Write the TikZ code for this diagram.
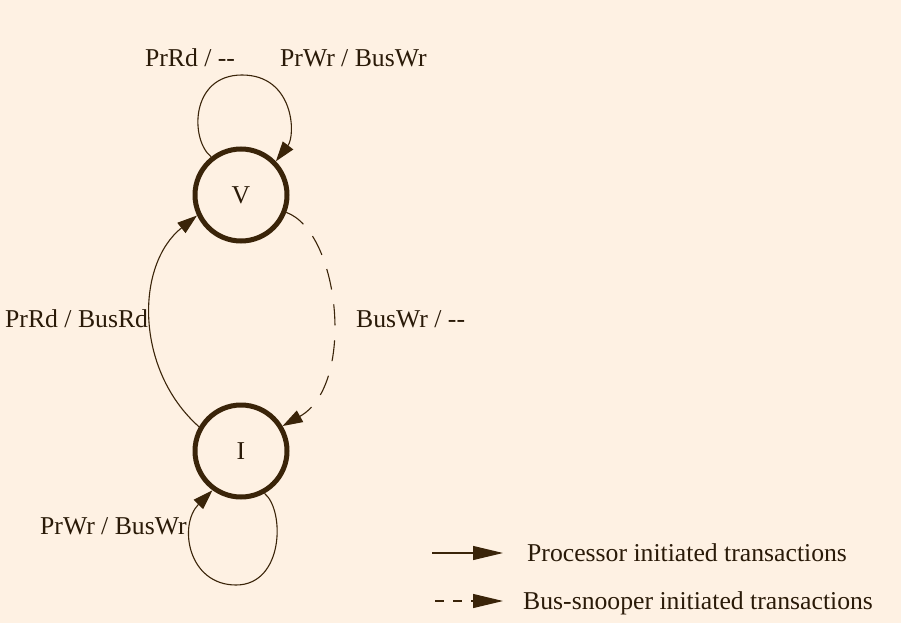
\documentclass[tikz,border=0pt]{standalone}
\usepackage{fontspec}
\setmainfont{Liberation Serif}
\usetikzlibrary{arrows.meta}
\definecolor{bg}{HTML}{FEF1E3}
\definecolor{ink}{HTML}{3A2409}
\definecolor{txt}{HTML}{2A1A08}
\begin{document}
\begin{tikzpicture}[x=1pt,y=-1pt,
  state/.style={circle,draw=ink,line width=5pt,minimum size=92pt,inner sep=0pt,text=txt,font=\fontsize{25.7}{30}\selectfont},
  lbl/.style={text=txt,font=\fontsize{25.7}{30}\selectfont,inner sep=0pt},
  tr/.style={draw=ink,line width=1.1pt,-{Triangle[length=20pt,width=13pt]}},
  bus/.style={tr,dash pattern=on 21pt off 15pt}]
\fill[bg] (0,0) rectangle (901,623);
\useasboundingbox (0,0) rectangle (901,623);
\node[state] (V) at (241,195) {V};
\node[state] (I) at (241,451) {I};
% loops and transitions
\draw[tr] (V.128) .. controls (190,140) and (190,75) .. (242,75) .. controls (294,75) and (296,135) .. (V.44);
\draw[tr] (I.150) .. controls (135,370) and (135,265) .. (V.205);
\draw[bus] (V.-21) .. controls (340,232) and (356,385) .. (I.31);
\draw[tr] (I.299) .. controls (285,510) and (284,585) .. (236,585) .. controls (188,585) and (178,525) .. (I.234);
% labels
\node[lbl,anchor=base] (l1) at (190,67) {PrRd / -{}-};
\node[lbl,anchor=base west] (l2) at (280,67) {PrWr / BusWr};
\node[lbl,anchor=base west] (l3) at (5,327) {PrRd / BusRd};
\node[lbl,anchor=base west] (l4) at (356,327) {BusWr / -{}-};
\node[lbl,anchor=base west] (l5) at (40,534) {PrWr / BusWr};
% legend
\coordinate (a1) at (432,553);
\coordinate (a2) at (503,553);
\coordinate (b1) at (435,601);
\coordinate (b2) at (503,601);
\draw[draw=ink,line width=1.1pt,-{Triangle[length=30pt,width=14pt]}] (a1) -- (a2);
\draw[draw=ink,line width=1.1pt,dash pattern=on 9pt off 9pt,-{Triangle[length=30pt,width=14pt]}] (b1) -- (b2);
\node[lbl,anchor=base west] (t1) at (527,561) {Processor initiated transactions};
\node[lbl,anchor=base west] (t2) at (523,609) {Bus-snooper initiated transactions};
\end{tikzpicture}
\end{document}
